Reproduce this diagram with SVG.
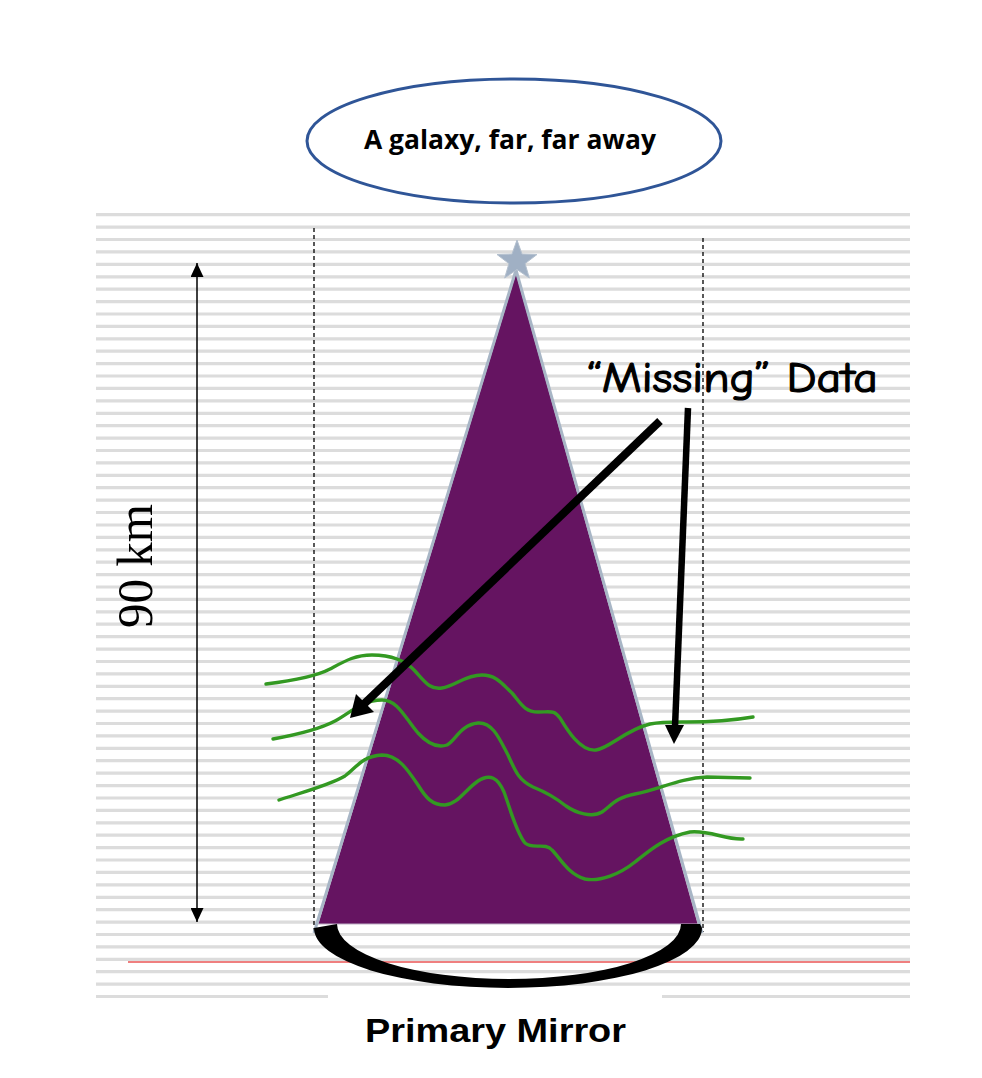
<svg xmlns="http://www.w3.org/2000/svg" width="982" height="1078" viewBox="0 0 982 1078">
<style>
.grid{stroke:#dcdcdc;stroke-width:3.2;fill:none}
.dash{stroke:#000;stroke-width:1.3;stroke-dasharray:4,3;fill:none}
.wave{stroke:#339922;stroke-width:3.4;fill:none;stroke-linecap:round;stroke-linejoin:round}
.big{stroke:#000;fill:none;stroke-linecap:butt}
</style>
<defs>
<marker id="dimHead" viewBox="0 0 14 13" refX="14" refY="6.5" markerWidth="14" markerHeight="13" markerUnits="userSpaceOnUse" orient="auto">
<path d="M0,0 L14,6.5 L0,13 Z" fill="#000"/>
</marker>
</defs>
<rect width="982" height="1078" fill="#fff"/>
<g id="background">
<path class="grid" d="M96,214.7H910M96,227.1H910M96,239.5H910M96,251.9H910M96,264.3H910M96,276.8H910M96,289.2H910M96,301.6H910M96,314H910M96,326.4H910M96,338.8H910M96,351.2H910M96,363.6H910M96,376H910M96,388.4H910M96,400.9H910M96,413.3H910M96,425.7H910M96,438.1H910M96,450.5H910M96,462.9H910M96,475.3H910M96,487.7H910M96,500.1H910M96,512.5H910M96,525H910M96,537.4H910M96,549.8H910M96,562.2H910M96,574.6H910M96,587H910M96,599.4H910M96,611.8H910M96,624.2H910M96,636.6H910M96,649.1H910M96,661.5H910M96,673.9H910M96,686.3H910M96,698.7H910M96,711.1H910M96,723.5H910M96,735.9H910M96,748.3H910M96,760.7H910M96,773.2H910M96,785.6H910M96,798H910M96,810.4H910M96,822.8H910M96,835.2H910M96,847.6H910M96,860H910M96,872.4H910M96,884.8H910M96,897.3H910M96,909.7H910M96,922.1H910M96,934.5H910M96,946.9H910M96,959.3H910M96,971.7H910M96,984.1H910M96,996.5H328M662,996.5H910"/>
<line x1="128" y1="962" x2="910" y2="962" stroke="#e00000" stroke-width="1.2"/>
<line class="dash" x1="314" y1="228" x2="314" y2="932"/>
<line class="dash" x1="703" y1="238" x2="703" y2="932"/>
</g>
<g id="galaxy">
<ellipse cx="514" cy="141" rx="207" ry="62" fill="#fff" stroke="#2f5597" stroke-width="3"/>
<text x="364" y="149" font-family="'Open Sans',sans-serif" font-weight="bold" font-size="27.5" textLength="292" lengthAdjust="spacingAndGlyphs" fill="#000">A galaxy, far, far away</text>
</g>
<g id="cone">
<polygon points="516,272 318,924 698,924" fill="#651461" stroke="#bfb0c6" stroke-width="1"/>
<line x1="516" y1="270" x2="314" y2="933" stroke="#a8b6c6" stroke-width="3"/>
<line x1="516" y1="270" x2="702" y2="933" stroke="#a8b6c6" stroke-width="3"/>
</g>
<g id="star">
<polygon points="517,240 522,254.1 537,254.5 525.1,263.6 529.3,278 517,269.5 504.7,278 508.9,263.6 497,254.5 512,254.1" fill="#a0b0c4" stroke="#b4c0ce" stroke-width="1"/>
</g>
<g id="mirror">
<path d="M314,928 A194,60 0 0 0 702,928 L700,924 L681,924 A172,55 0 0 1 337,924 Z" fill="#000"/>
<rect x="328" y="994" width="334" height="6" fill="#fff"/>
<text x="365" y="1042" font-family="'Liberation Sans',Arial,sans-serif" font-weight="bold" font-size="34" textLength="261" lengthAdjust="spacingAndGlyphs" fill="#000">Primary Mirror</text>
</g>
<g id="waves">
<path class="wave" d="M266,684 C290,681 315,677 330,669 C345,661 355,655 372,655 C390,655 405,660 415,671 C425,682 430,690 442,688 C455,686 465,675 482,675 C497,675 503,685 512,693 C520,702 524,712 538,712 C552,712 554,710 560,718 C566,728 580,752 596,750 C610,748 625,730 650,724 C675,719 700,726 753,717"/>
<path class="wave" d="M273,739 C295,735 318,730 335,721 C350,713 362,700 382,700 C398,700 405,718 418,733 C428,744 438,748 447,745 C456,740 460,725 478,723 C493,722 500,740 508,755 C515,770 518,780 533,787 C548,793 556,798 566,806 C576,813 592,818 602,812 C612,805 615,798 635,794 C660,789 680,778 707,777 L750,778"/>
<path class="wave" d="M279,800 C300,793 330,785 345,776 C356,768 362,756 382,755 C398,755 408,770 418,785 C426,798 432,805 445,805 C458,804 465,790 478,781 C490,773 498,778 504,792 C510,808 516,832 525,843 C533,850 545,842 552,850 C560,858 568,874 585,879 C600,882 620,874 635,862 C650,850 665,837 690,832 C710,830 725,840 743,839"/>
</g>
<g id="dimension">
<line x1="197" y1="590" x2="197" y2="263" stroke="#000" stroke-width="1.5" marker-end="url(#dimHead)"/>
<line x1="197" y1="590" x2="197" y2="922" stroke="#000" stroke-width="1.5" marker-end="url(#dimHead)"/>
<text transform="translate(152,566) rotate(-90)" text-anchor="middle" font-family="'Liberation Serif','Times New Roman',serif" font-size="50" textLength="124" lengthAdjust="spacingAndGlyphs" fill="#000">90 km</text>
</g>
<g id="missing-data">
<text x="587" y="392" font-family="'Comic Sans MS','Comic Neue','DejaVu Sans',sans-serif" font-size="42" textLength="291" lengthAdjust="spacingAndGlyphs" fill="#000" stroke="#000" stroke-width="1.2">“Missing” Data</text>
</g>
<g id="connectors">
<line class="big" x1="660" y1="421" x2="364" y2="704" stroke-width="8"/>
<polygon points="350,718 356,694 374,712" fill="#000"/>
<line class="big" x1="688" y1="408" x2="675" y2="727" stroke-width="6.5"/>
<polygon points="674,744 665,725 684,725" fill="#000"/>
</g>
</svg>
